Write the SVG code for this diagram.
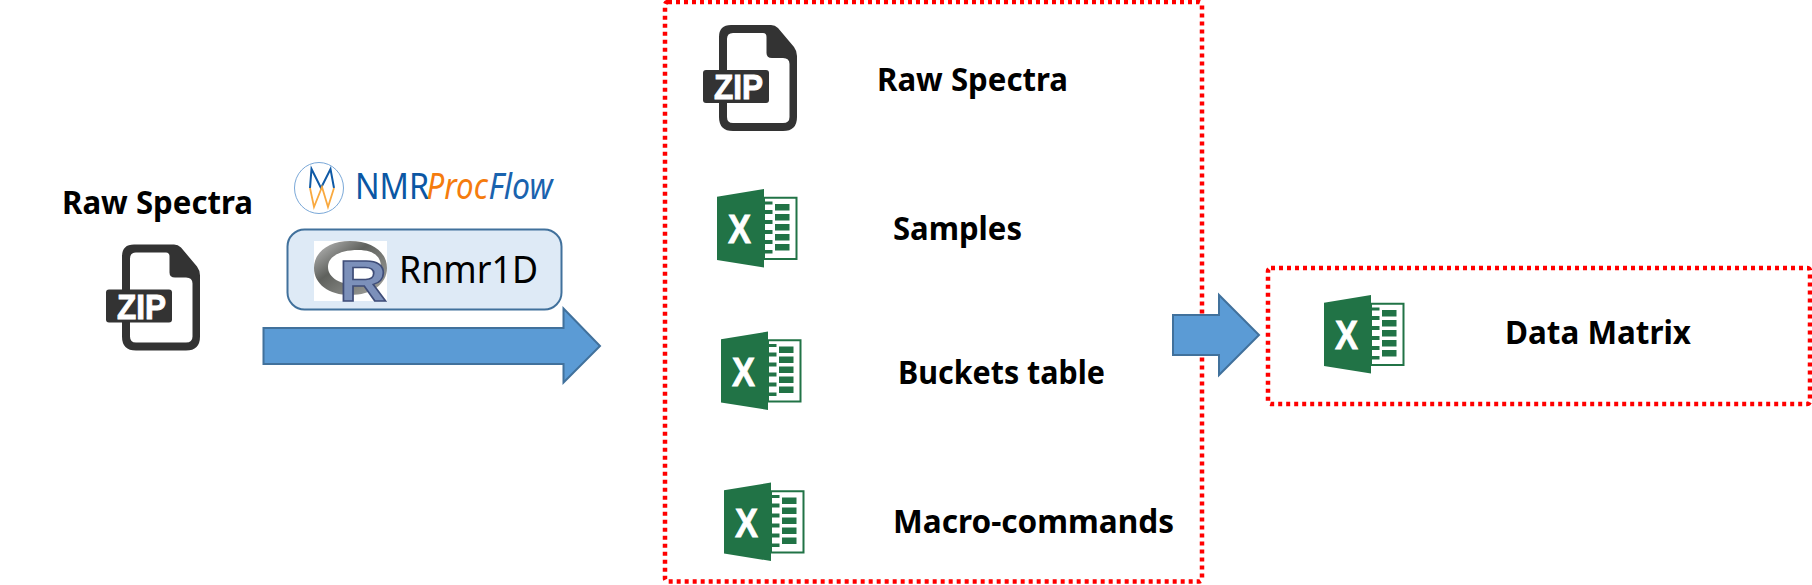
<svg xmlns="http://www.w3.org/2000/svg" width="1812" height="585" viewBox="0 0 1812 585">
<style>
.lbl{font-family:"Noto Sans","Open Sans",sans-serif;font-weight:700;font-size:33px;fill:#000}
.box{fill:none;stroke:#f00;stroke-width:4.5;stroke-dasharray:4 4}
.arrow{fill:#5b9bd5;stroke:#41719c;stroke-width:2}
.zipfile{fill:#333;fill-rule:evenodd}
.ziptxt{font-family:"Liberation Sans",sans-serif;font-weight:700;font-size:35px;fill:#fff;stroke:#fff;stroke-width:1}
.xl{fill:#217346}
.xltxt{font-family:"Liberation Sans",sans-serif;font-weight:700;font-size:40px;fill:#fff;stroke:#fff;stroke-width:.8}
.nmr{font-family:"Noto Sans",sans-serif;font-size:36px}
</style>
<defs>
<linearGradient id="ring" x1="0" y1="0" x2="1" y2="1"><stop offset="0" stop-color="#c2c2c2"/><stop offset="0.4" stop-color="#5f615d"/><stop offset="1" stop-color="#a6a7a3"/></linearGradient>
<g id="zip">
<path class="zipfile" d="M12 0H52Q56 0 59 3L75 22Q78 26 78 31V92Q78 106 64 106H14Q0 106 0 92V12Q0 0 12 0ZM14 8Q8 8 8 14V92Q8 98 14 98H64Q70.5 98 70.5 92V39Q70.5 33 64 33H53Q47.5 33 47.5 28V12Q47.500 8 44 8Z"/>
<rect x="-16" y="45" width="66" height="33" rx="3" fill="#333"/>
<text class="ziptxt" x="-5" y="74" textLength="49" lengthAdjust="spacingAndGlyphs">ZIP</text>
</g>
<g id="xls">
<path fill="#fff" stroke="#217346" stroke-width="2" d="M47 8.700H79.500V70H47Z"/>
<path class="xl" d="M0 7.700L47 0V78.500L0 71Z"/>
<path class="xl" d="M58 15h14.500v6.500H58zM58 25h14.500v6.500H58zM58 35h14.500v6.500H58zM58 45h14.500v6.500H58zM58 55h14.500v6.500H58z"/>
<path class="xl" d="M47 21h8.500v4h-8.500zM47 31h8.500v4h-8.500zM47 41h8.500v4h-8.500zM47 51h8.500v4h-8.500zM47 12.500h8.500v3h-8.500zM47 61h8.500v3.500h-8.500z"/>
<text class="xltxt" x="11" y="54" textLength="23" lengthAdjust="spacingAndGlyphs">X</text>
</g>
</defs>

<g id="connectors">
<path class="arrow" d="M263.500 328H563.500V308.500L600 346L563.500 382.500V364H263.500Z"/>
</g>

<g id="input-raw-spectra">
<text class="lbl" x="62" y="214" textLength="191" lengthAdjust="spacingAndGlyphs">Raw Spectra</text>
<use href="#zip" x="122" y="244.500"/>
</g>

<g id="nmrprocflow-logo">
<ellipse cx="319" cy="188" rx="24.500" ry="25.500" fill="#fff" stroke="#7aa8d8" stroke-width="1"/>
<path d="M310 188L311.500 169L321 188L330.500 169L334 188" fill="none" stroke="#0f5aa6" stroke-width="2"/>
<path d="M310 188L314 207L322 187L328 207L334 188" fill="none" stroke="#f9a93f" stroke-width="1.800"/>
<text class="nmr" transform="translate(355 199) scale(.9 1)" fill="#0b57a4">NMR</text>
<text class="nmr" transform="translate(426.500 199) scale(.87 1)" fill="#f57c0d" font-style="italic">Proc</text>
<text class="nmr" transform="translate(488.500 199) scale(.89 1)" fill="#1a63ae" font-style="italic">Flow</text>
</g>

<g id="rnmr1d">
<rect x="287.500" y="229.500" width="274" height="80" rx="17" fill="#deeaf6" stroke="#41719c" stroke-width="2"/>
<rect x="314" y="241" width="73" height="60" fill="#fff"/>
<path fill="url(#ring)" fill-rule="evenodd" d="M350 241C372 241 387 252 387 268C387 284 372 295 350 295C329 295 314 284 314 268C314 252 329 241 350 241ZM358 250C341 250 328 256 328 267C328 278 341 285 358 285C373 285 381 278 381 267C381 256 373 250 358 250Z"/>
<text x="339" y="301" font-family="Liberation Sans,sans-serif" font-weight="700" font-size="58" fill="#7c90ba" stroke="#3f4d78" stroke-width="1.500" textLength="48" lengthAdjust="spacingAndGlyphs">R</text>
<text x="399" y="283" font-family="Noto Sans,sans-serif" font-size="38" fill="#000" textLength="139" lengthAdjust="spacingAndGlyphs">Rnmr1D</text>
</g>

<g id="output-box">
<rect class="box" x="665" y="2" width="537" height="579.500" rx="3"/>
</g>
<g id="item-raw-spectra">
<use href="#zip" x="719" y="25"/>
<text class="lbl" x="877" y="91" textLength="191" lengthAdjust="spacingAndGlyphs">Raw Spectra</text>
</g>
<g id="item-samples">
<use href="#xls" x="717" y="189"/>
<text class="lbl" x="893" y="240" textLength="129" lengthAdjust="spacingAndGlyphs">Samples</text>
</g>
<g id="item-buckets">
<use href="#xls" x="721" y="331.500"/>
<text class="lbl" x="898" y="384" textLength="207" lengthAdjust="spacingAndGlyphs">Buckets table</text>
</g>
<g id="item-macro">
<use href="#xls" x="724" y="482.500"/>
<text class="lbl" x="893" y="533" textLength="281" lengthAdjust="spacingAndGlyphs">Macro-commands</text>
</g>

<g id="data-matrix">
<rect class="box" x="1268" y="268" width="542" height="136" rx="3"/>
<use href="#xls" x="1324" y="295"/>
<text class="lbl" x="1505" y="344" textLength="186" lengthAdjust="spacingAndGlyphs">Data Matrix</text>
</g>

<g id="connectors-2">
<path class="arrow" d="M1173 315H1219V295L1259 335L1219 375V355H1173Z"/>
</g>
</svg>
